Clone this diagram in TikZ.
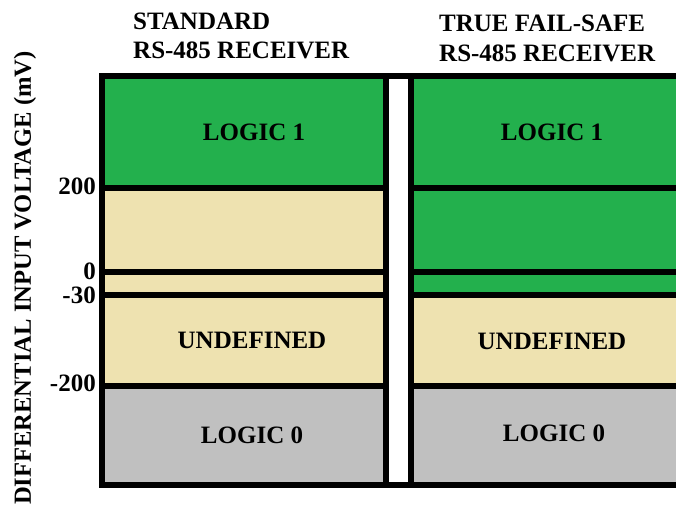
\documentclass[tikz,border=0pt]{standalone}
\usepackage{fontspec}
\setmainfont{Liberation Serif}
\definecolor{logicgreen}{RGB}{35,176,77}
\definecolor{undeftan}{RGB}{238,226,176}
\definecolor{logicgray}{RGB}{192,192,192}
\tikzset{
  frame/.style={line width=6pt},
  zonetext/.style={font=\fontsize{25}{29}\selectfont\bfseries},
  headtext/.style={font=\fontsize{25}{29}\selectfont\bfseries, anchor=base west, inner sep=0pt},
  ticktext/.style={font=\fontsize{25}{29}\selectfont\bfseries, anchor=east, inner sep=0pt}
}

\begin{document}
\begin{tikzpicture}[x=1pt,y=-1pt]
\clip (0,0) rectangle (676,508);
\fill[logicgreen] (102,76) rectangle (386,188);
\fill[undeftan] (102,188) rectangle (386,386);
\fill[logicgray] (102,386) rectangle (386,485);
\fill[logicgreen] (411,76) rectangle (700,295);
\fill[undeftan] (411,295) rectangle (700,386);
\fill[logicgray] (411,386) rectangle (700,485);
\draw[frame] (102,76) rectangle (386,485);
\draw[frame] (411,76) rectangle (700,485);
\draw[frame] (386,76) -- (411,76);
\draw[frame] (386,485) -- (411,485);
\draw[frame] (102,188) -- (386,188);
\draw[frame] (102,272) -- (386,272);
\draw[frame] (102,295) -- (386,295);
\draw[frame] (102,386) -- (386,386);
\draw[frame] (411,188) -- (700,188);
\draw[frame] (411,272) -- (700,272);
\draw[frame] (411,295) -- (700,295);
\draw[frame] (411,386) -- (700,386);
\node[zonetext] (hiA) at (254,132) {LOGIC 1};
\node[zonetext] (undA) at (252,340) {UNDEFINED};
\node[zonetext] (loA) at (252,435) {LOGIC 0};
\node[zonetext] (hiB) at (552,132) {LOGIC 1};
\node[zonetext] (undB) at (552,341) {UNDEFINED};
\node[zonetext] (loB) at (554,433) {LOGIC 0};
\node[headtext] (stdA) at (133,30) {STANDARD};
\node[headtext] (stdB) at (133,59) {RS-485 RECEIVER};
\node[headtext] (tfsA) at (439,32) {TRUE FAIL-SAFE};
\node[headtext] (tfsB) at (439,62) {RS-485 RECEIVER};
\node[ticktext] (tp200) at (96,186) {200};
\node[ticktext] (tzero) at (96,271) {0};
\node[ticktext] (tm30) at (96,295) {-30};
\node[ticktext] (tm200) at (96,383) {-200};
\node[font=\fontsize{24.6}{29}\selectfont\bfseries, rotate=90, inner sep=0pt] (vaxis) at (25,278) {DIFFERENTIAL INPUT VOLTAGE (mV)};
\end{tikzpicture}
\end{document}
